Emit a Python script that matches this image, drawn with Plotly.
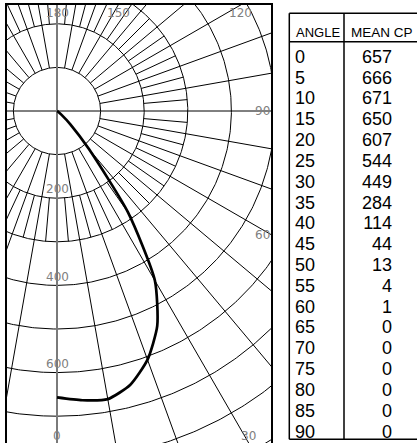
import numpy as np
import plotly.graph_objects as go

# ---------------- data ----------------
angles = [0, 5, 10, 15, 20, 25, 30, 35, 40, 45, 50, 55, 60, 65, 70, 75, 80, 85, 90]
mean_cp = [657, 666, 671, 650, 607, 544, 449, 284, 114, 44, 13, 4, 1, 0, 0, 0, 0, 0, 0]
angle_labels = [0, 30, 60, 90, 120, 150, 180]
radial_labels = [200, 400, 600]
table_header = ["ANGLE", "MEAN CP"]

# ---------------- geometry (pixels) ----------------
W, H = 417, 443
S = 0.436                 # px per candela
CX, CY = 57, 111          # pole position in px
LEFT, RIGHT, TOP, BOTTOM = 7, 271, 5, 443

xr = [(LEFT - CX) / S, (RIGHT - CX) / S]
yr = [-(BOTTOM - CY) / S, (CY - TOP) / S]


def pol(r, th_deg):
    th = np.radians(th_deg)
    return r * np.sin(th), -r * np.cos(th)


fig = go.Figure()

# ---- grid: circles
gx, gy = [], []
t = np.linspace(0, 360, 721)
for r in range(100, 1100, 100):
    x, y = pol(r, t)
    gx += list(x) + [None]
    gy += list(y) + [None]
# ---- radial lines every 10 deg from r=100 outward
for a in range(0, 360, 10):
    if a % 90 == 0:
        continue
    x, y = pol(np.array([100, 1400]), a)
    gx += list(x) + [None]
    gy += list(y) + [None]
# ---- intermediate 5 deg lines in the 200..300 band
for a in range(5, 360, 10):
    x, y = pol(np.array([200, 300]), a)
    gx += list(x) + [None]
    gy += list(y) + [None]
# horizontal axis line
gx += [-400, 1400, None]
gy += [0, 0, None]

fig.add_trace(go.Scatter(x=gx, y=gy, mode="lines",
                         line=dict(color="#000000", width=1),
                         hoverinfo="skip", showlegend=False))
# vertical (0-180) axis line in gray
fig.add_trace(go.Scatter(x=[0, 0], y=[-1400, 600], mode="lines",
                         line=dict(color="#7a7a7a", width=2),
                         hoverinfo="skip", showlegend=False))

# ---- candlepower curve
cx_, cy_ = pol(np.array(mean_cp, dtype=float), np.array(angles, dtype=float))
fig.add_trace(go.Scatter(x=cx_, y=cy_, mode="lines",
                         line=dict(color="#000000", width=2.7, shape="spline", smoothing=0.6),
                         hoverinfo="skip", showlegend=False))

# ---- angle labels: where each ray meets the frame, pulled inside it
fx, fy_top, fy_bot = xr[1], yr[1], yr[0]
xmax_in = (262 - CX) / S
ymax_in = (CY - 13) / S
ymin_in = -(436 - CY) / S
for a in angle_labels:
    sx, sy = np.sin(np.radians(a)), -np.cos(np.radians(a))
    cands = []
    if sx > 1e-9:
        cands.append(fx / sx)
    if sy > 1e-9:
        cands.append(fy_top / sy)
    if sy < -1e-9:
        cands.append(fy_bot / sy)
    tt = min(cands)
    px, py = tt * sx, tt * sy
    px = min(px, xmax_in)
    py = max(min(py, ymax_in), ymin_in)
    fig.add_annotation(x=px, y=py, xref="x", yref="y", text=str(a), showarrow=False,
                       font=dict(family="DejaVu Sans", size=12, color="#808080"),
                       xanchor="center", yanchor="middle")

# ---- radial labels
for r in radial_labels:
    fig.add_annotation(x=0, y=-(r - 20), xref="x", yref="y", text=str(r), showarrow=False,
                       font=dict(family="DejaVu Sans", size=12, color="#808080"),
                       xanchor="center", yanchor="middle")

# ---------------- table ----------------
ROW0, ROWH = 58.2, 20.83


def k(px):
    return (px - ROW0) / ROWH


TFONT = "Liberation Sans, Arial, sans-serif"
rows = list(range(len(angles)))
fig.add_trace(go.Scatter(x=[295] * len(angles), y=rows, xaxis="x2", yaxis="y2",
                         mode="text", text=[str(a) for a in angles],
                         textposition="middle right",
                         textfont=dict(family=TFONT, size=18, color="#000"),
                         hoverinfo="skip", showlegend=False))
fig.add_trace(go.Scatter(x=[392] * len(mean_cp), y=rows, xaxis="x2", yaxis="y2",
                         mode="text", text=[str(v) for v in mean_cp],
                         textposition="middle left",
                         textfont=dict(family=TFONT, size=18, color="#000"),
                         hoverinfo="skip", showlegend=False))
fig.add_annotation(x=294, y=k(32.5), xref="x2", yref="y2", text=table_header[0], showarrow=False,
                   xanchor="left", yanchor="middle", font=dict(family=TFONT, size=13, color="#000"))
fig.add_annotation(x=349, y=k(32.5), xref="x2", yref="y2", text=table_header[1], showarrow=False,
                   xanchor="left", yanchor="middle", font=dict(family=TFONT, size=13.5, color="#000"))

line = dict(color="#000", width=1.5)
for ypx in (13.3, 41.7, 439.3):
    fig.add_shape(type="line", xref="x2", yref="y2", x0=289.3, x1=417, y0=k(ypx), y1=k(ypx), line=line)
for xpx in (289.3, 344):
    fig.add_shape(type="line", xref="x2", yref="y2", x0=xpx, x1=xpx, y0=k(13.3), y1=k(439.3), line=line)

fig.update_layout(
    width=W, height=H,
    margin=dict(l=0, r=0, t=0, b=0),
    paper_bgcolor="white", plot_bgcolor="white",
    xaxis=dict(domain=[LEFT / W, RIGHT / W], range=xr, showgrid=False, zeroline=False,
               showticklabels=False, ticks="", showline=True, side="top", mirror=False,
               linecolor="#000", linewidth=1.5, fixedrange=True),
    yaxis=dict(domain=[0, 1 - TOP / H], range=yr, showgrid=False, zeroline=False,
               showticklabels=False, ticks="", showline=True, mirror=True,
               linecolor="#000", linewidth=1.5, fixedrange=True),
    xaxis2=dict(domain=[280 / W, 1], range=[280, 417], anchor="y2", visible=False, fixedrange=True),
    yaxis2=dict(domain=[0, 1], range=[k(H), k(0)], anchor="x2", visible=False, fixedrange=True),
)

fig.write_html("out.html", config={"displayModeBar": False},
               post_script="document.body.style.margin='0px';")
